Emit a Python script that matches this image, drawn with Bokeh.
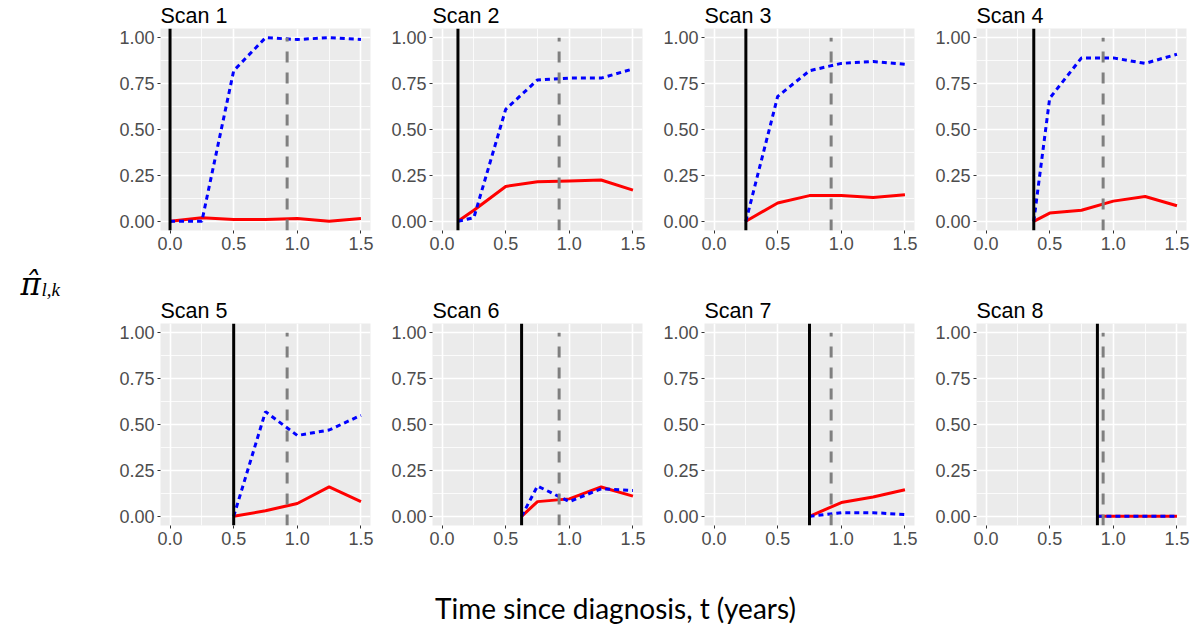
from bokeh.plotting import figure
from bokeh.layouts import row, column
from bokeh.models import Range1d, FixedTicker, NumeralTickFormatter, Span
from bokeh.core.properties import value
from bokeh.embed import file_html
from bokeh.resources import INLINE

# ---------------- data ----------------
scan_names = ["Scan 1", "Scan 2", "Scan 3", "Scan 4", "Scan 5", "Scan 6", "Scan 7", "Scan 8"]
scan_start = [0.0, 0.125, 0.25, 0.375, 0.5, 0.625, 0.75, 0.875]
eval_times = [0.25, 0.5, 0.75, 1.0, 1.25, 1.5]
ref_time = 0.92

pi_dashed_1 = [0.0, 0.0, 0.82, 1.0, 0.99, 1.0, 0.99]
pi_dashed_2 = [0.0, 0.02, 0.61, 0.77, 0.78, 0.78, 0.83]
pi_dashed_3 = [0.0, 0.68, 0.82, 0.86, 0.87, 0.855]
pi_dashed_4 = [0.0, 0.67, 0.89, 0.89, 0.86, 0.91]
pi_dashed_5 = [0.0, 0.57, 0.44, 0.47, 0.55]
pi_dashed_6 = [0.0, 0.165, 0.08, 0.15, 0.14]
pi_dashed_7 = [0.0, 0.02, 0.02, 0.01]
pi_dashed_8 = [0.0, 0.0, 0.0, 0.0]

pi_solid_1 = [0.0, 0.02, 0.01, 0.01, 0.015, 0.0, 0.015]
pi_solid_2 = [0.0, 0.06, 0.19, 0.215, 0.22, 0.225, 0.17]
pi_solid_3 = [0.0, 0.10, 0.14, 0.14, 0.13, 0.145]
pi_solid_4 = [0.0, 0.045, 0.06, 0.11, 0.135, 0.085]
pi_solid_5 = [0.0, 0.03, 0.07, 0.16, 0.08]
pi_solid_6 = [0.0, 0.08, 0.095, 0.16, 0.11]
pi_solid_7 = [0.0, 0.075, 0.105, 0.145]
pi_solid_8 = [0.0, 0.0, 0.0, 0.0]

pi_dashed = [pi_dashed_1, pi_dashed_2, pi_dashed_3, pi_dashed_4,
             pi_dashed_5, pi_dashed_6, pi_dashed_7, pi_dashed_8]
pi_solid = [pi_solid_1, pi_solid_2, pi_solid_3, pi_solid_4,
            pi_solid_5, pi_solid_6, pi_solid_7, pi_solid_8]

x_ticks = [0.0, 0.5, 1.0, 1.5]
x_minor = [0.25, 0.75, 1.25]
y_ticks = [0.0, 0.25, 0.5, 0.75, 1.0]
y_minor = [0.125, 0.375, 0.625, 0.875]

x_label = "Time since diagnosis, t (years)"

# ---------------- panels ----------------
FONT = "Liberation Sans"


def make_panel(k):
    top_row = k < 4
    last_col = (k % 4) == 3
    p = figure(frame_width=210, frame_height=202,
               x_range=Range1d(-0.075, 1.575), y_range=Range1d(-0.05, 1.05),
               output_backend="svg", toolbar_location=None,
               min_border_left=52, min_border_right=5 if last_col else 10,
               min_border_top=28, min_border_bottom=65 if top_row else 32,
               background_fill_color="#EBEBEB", border_fill_color="white",
               outline_line_color=None, title=scan_names[k])
    p.title.text_font = FONT
    p.title.text_font_size = "21.5px"
    p.title.text_font_style = "normal"
    p.title.text_color = "black"
    p.title.align = "left"
    p.title.standoff = 1
    p.title.offset = 0

    p.xaxis.ticker = FixedTicker(ticks=x_ticks, minor_ticks=x_minor)
    p.yaxis.ticker = FixedTicker(ticks=y_ticks, minor_ticks=y_minor)
    p.xaxis.formatter = NumeralTickFormatter(format="0.0")
    p.yaxis.formatter = NumeralTickFormatter(format="0.00")
    for ax in (p.xaxis, p.yaxis):
        ax.axis_line_color = None
        ax.major_tick_line_color = "#333333"
        ax.major_tick_line_width = 1
        ax.major_tick_out = 3
        ax.major_tick_in = 0
        ax.minor_tick_line_color = None
        ax.major_label_text_font = FONT
        ax.major_label_text_font_size = "18px"
        ax.major_label_text_color = "#4D4D4D"
        ax.major_label_standoff = 2

    for g in (p.xgrid, p.ygrid):
        g.grid_line_color = "white"
        g.grid_line_width = 1.6
        g.minor_grid_line_color = "white"
        g.minor_grid_line_width = 0.8

    t = [scan_start[k]] + [e for e in eval_times if e > scan_start[k]]
    p.line(t, pi_solid[k], line_color="red", line_width=3)
    p.line(t, pi_dashed[k], line_color="blue", line_width=3, line_dash="5 4")

    p.add_layout(Span(location=scan_start[k], dimension="height",
                      line_color="black", line_width=3))
    p.segment(x0=[ref_time], y0=[-0.05], x1=[ref_time], y1=[1.0],
              line_color="#7F7F7F", line_width=3, line_dash="11 10")
    return p


panels = [make_panel(k) for k in range(8)]

# y-axis label panel
ylab = figure(frame_width=108, frame_height=555, x_range=Range1d(0, 108),
              y_range=Range1d(555, 0), output_backend="svg", toolbar_location=None,
              min_border=0, outline_line_color=None, x_axis_type=None, y_axis_type=None)
ylab.xgrid.visible = False
ylab.ygrid.visible = False
ylab.text(x=[20], y=[283], text=["π̂"], text_font=value("DejaVu Serif"),
          text_font_style="italic", text_font_size="31px", text_baseline="alphabetic",
          text_color="black")
ylab.text(x=[41], y=[289], text=["l,k"], text_font=value("Liberation Serif"),
          text_font_style="italic", text_font_size="19px", text_baseline="alphabetic",
          text_color="black")

# x-axis label panel
xlab = figure(frame_width=1191, frame_height=72, x_range=Range1d(0, 1191),
              y_range=Range1d(72, 0), output_backend="svg", toolbar_location=None,
              min_border=0, outline_line_color=None, x_axis_type=None, y_axis_type=None)
xlab.xgrid.visible = False
xlab.ygrid.visible = False
xlab.text(x=[615], y=[50], text=[x_label], text_font=value("Lato"),
          text_font_size="28px", text_align="center", text_baseline="alphabetic",
          text_color="black")

grid = column(row(*panels[:4]), row(*panels[4:]))
layout = column(row(ylab, grid), xlab)

open("out.html", "w").write(file_html(layout, INLINE))
